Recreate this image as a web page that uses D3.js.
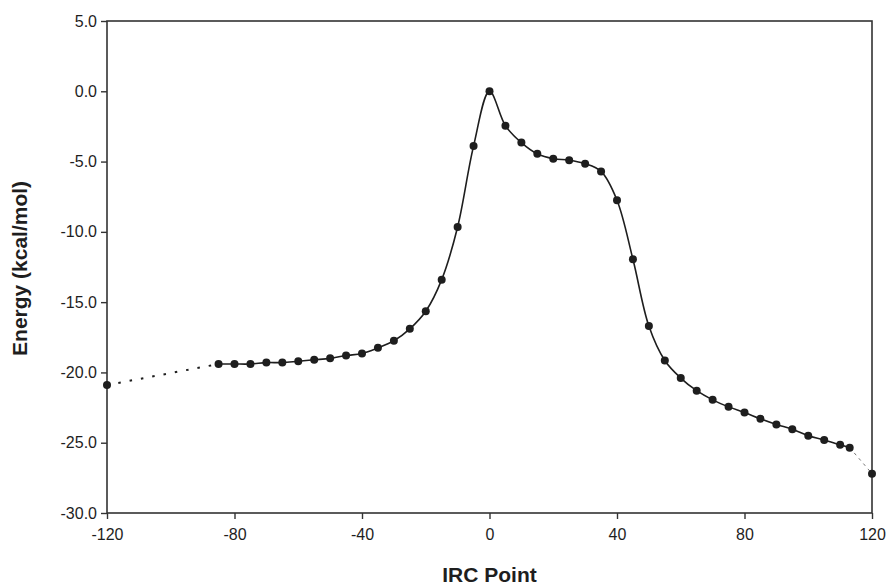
<!DOCTYPE html>
<html>
<head>
<meta charset="utf-8">
<script src="https://cdn.jsdelivr.net/npm/d3@7"></script>
<style>
  body { margin: 0; background: #fff; }
  svg { display: block; }
</style>
</head>
<body>
<div id="chart"></div>
<script>
// IRC points and energies (kcal/mol)
const irc = [-120, -85, -80, -75, -70, -65, -60, -55, -50, -45, -40, -35, -30, -25, -20, -15, -10, -5,
  0, 5, 10, 15, 20, 25, 30, 35, 40, 45, 50, 55, 60, 65, 70, 75, 80, 85, 90, 95, 100, 105, 110, 113, 120];
const energy = [-20.9, -19.4, -19.4, -19.4, -19.3, -19.3, -19.2, -19.1, -19.0, -18.8, -18.65, -18.25, -17.75, -16.9, -15.65, -13.4, -9.65, -3.9,
  0.0, -2.45, -3.65, -4.45, -4.8, -4.9, -5.15, -5.7, -7.75, -11.95, -16.7, -19.15, -20.4, -21.3, -21.95, -22.45, -22.85, -23.3, -23.7, -24.05, -24.5, -24.8, -25.15, -25.35, -27.2];

const xTicks = [-120, -80, -40, 0, 40, 80, 120];
const yTicks = [5, 0, -5, -10, -15, -20, -25, -30];

const width = 887, height = 585;
const margin = { top: 21, right: 15, bottom: 72, left: 107 };

const data = irc.map((d, i) => ({ x: d, y: energy[i] }));
const solid = data.filter(d => d.x >= -85 && d.x <= 113);
const leftTail = data.filter(d => d.x === -120 || d.x === -85);
const rightTail = data.filter(d => d.x === 113 || d.x === 120);

const xScale = d3.scaleLinear([-120, 120], [margin.left, width - margin.right]);
const yScale = d3.scaleLinear([-30, 5], [height - margin.bottom, margin.top]);

// plain hyphen minus like the original
const hyphen = f => d => f(d).replace("\u2212", "-");

const svg = d3.select("#chart").append("svg")
  .attr("width", width)
  .attr("height", height)
  .attr("viewBox", [0, 0, width, height])
  .style("font-family", "'Liberation Sans', Arial, sans-serif");

const ink = "#1e1e1e";

// frame
svg.append("rect")
  .attr("x", margin.left)
  .attr("y", margin.top)
  .attr("width", width - margin.left - margin.right)
  .attr("height", height - margin.top - margin.bottom)
  .attr("fill", "none")
  .attr("stroke", "#333")
  .attr("stroke-width", 1.6);

// axes
svg.append("g")
  .attr("transform", `translate(0,${height - margin.bottom})`)
  .call(d3.axisBottom(xScale).tickValues(xTicks).tickSize(6).tickPadding(10).tickFormat(hyphen(d3.format("d"))))
  .call(g => g.select(".domain").remove())
  .call(g => g.selectAll(".tick line").attr("stroke", "#333").attr("stroke-width", 1.4))
  .call(g => g.selectAll(".tick text").attr("font-size", 16).attr("fill", ink)
    .attr("font-family", "'Liberation Sans', Arial, sans-serif"));

svg.append("g")
  .attr("transform", `translate(${margin.left},0)`)
  .call(d3.axisLeft(yScale).tickValues(yTicks).tickSize(6).tickPadding(4).tickFormat(hyphen(d3.format(".1f"))))
  .call(g => g.select(".domain").remove())
  .call(g => g.selectAll(".tick line").attr("stroke", "#333").attr("stroke-width", 1.4))
  .call(g => g.selectAll(".tick text").attr("font-size", 16).attr("fill", ink)
    .attr("font-family", "'Liberation Sans', Arial, sans-serif"));

// axis titles
svg.append("text")
  .attr("x", xScale(0))
  .attr("y", 582)
  .attr("text-anchor", "middle")
  .attr("font-size", 21)
  .attr("font-weight", "bold")
  .attr("fill", ink)
  .text("IRC Point");

svg.append("text")
  .attr("transform", `translate(27,${yScale(-12.6)}) rotate(-90)`)
  .attr("text-anchor", "middle")
  .attr("font-size", 21)
  .attr("font-weight", "bold")
  .attr("fill", ink)
  .text("Energy (kcal/mol)");

const line = d3.line()
  .x(d => xScale(d.x))
  .y(d => yScale(d.y));

// dotted extrapolation on the left
svg.append("path")
  .datum(leftTail)
  .attr("d", line)
  .attr("fill", "none")
  .attr("stroke", ink)
  .attr("stroke-width", 2)
  .attr("stroke-dasharray", "2.5,9");

// dashed tail on the right
svg.append("path")
  .datum(rightTail)
  .attr("d", line)
  .attr("fill", "none")
  .attr("stroke", "#777")
  .attr("stroke-width", 1)
  .attr("stroke-dasharray", "3,4");

// smooth IRC curve
svg.append("path")
  .datum(solid)
  .attr("d", line.curve(d3.curveCatmullRom.alpha(0.5)))
  .attr("fill", "none")
  .attr("stroke", ink)
  .attr("stroke-width", 1.6);

// markers
svg.append("g")
  .selectAll("circle")
  .data(data)
  .join("circle")
  .attr("cx", d => xScale(d.x))
  .attr("cy", d => yScale(d.y))
  .attr("r", 4)
  .attr("fill", ink);
</script>
</body>
</html>
